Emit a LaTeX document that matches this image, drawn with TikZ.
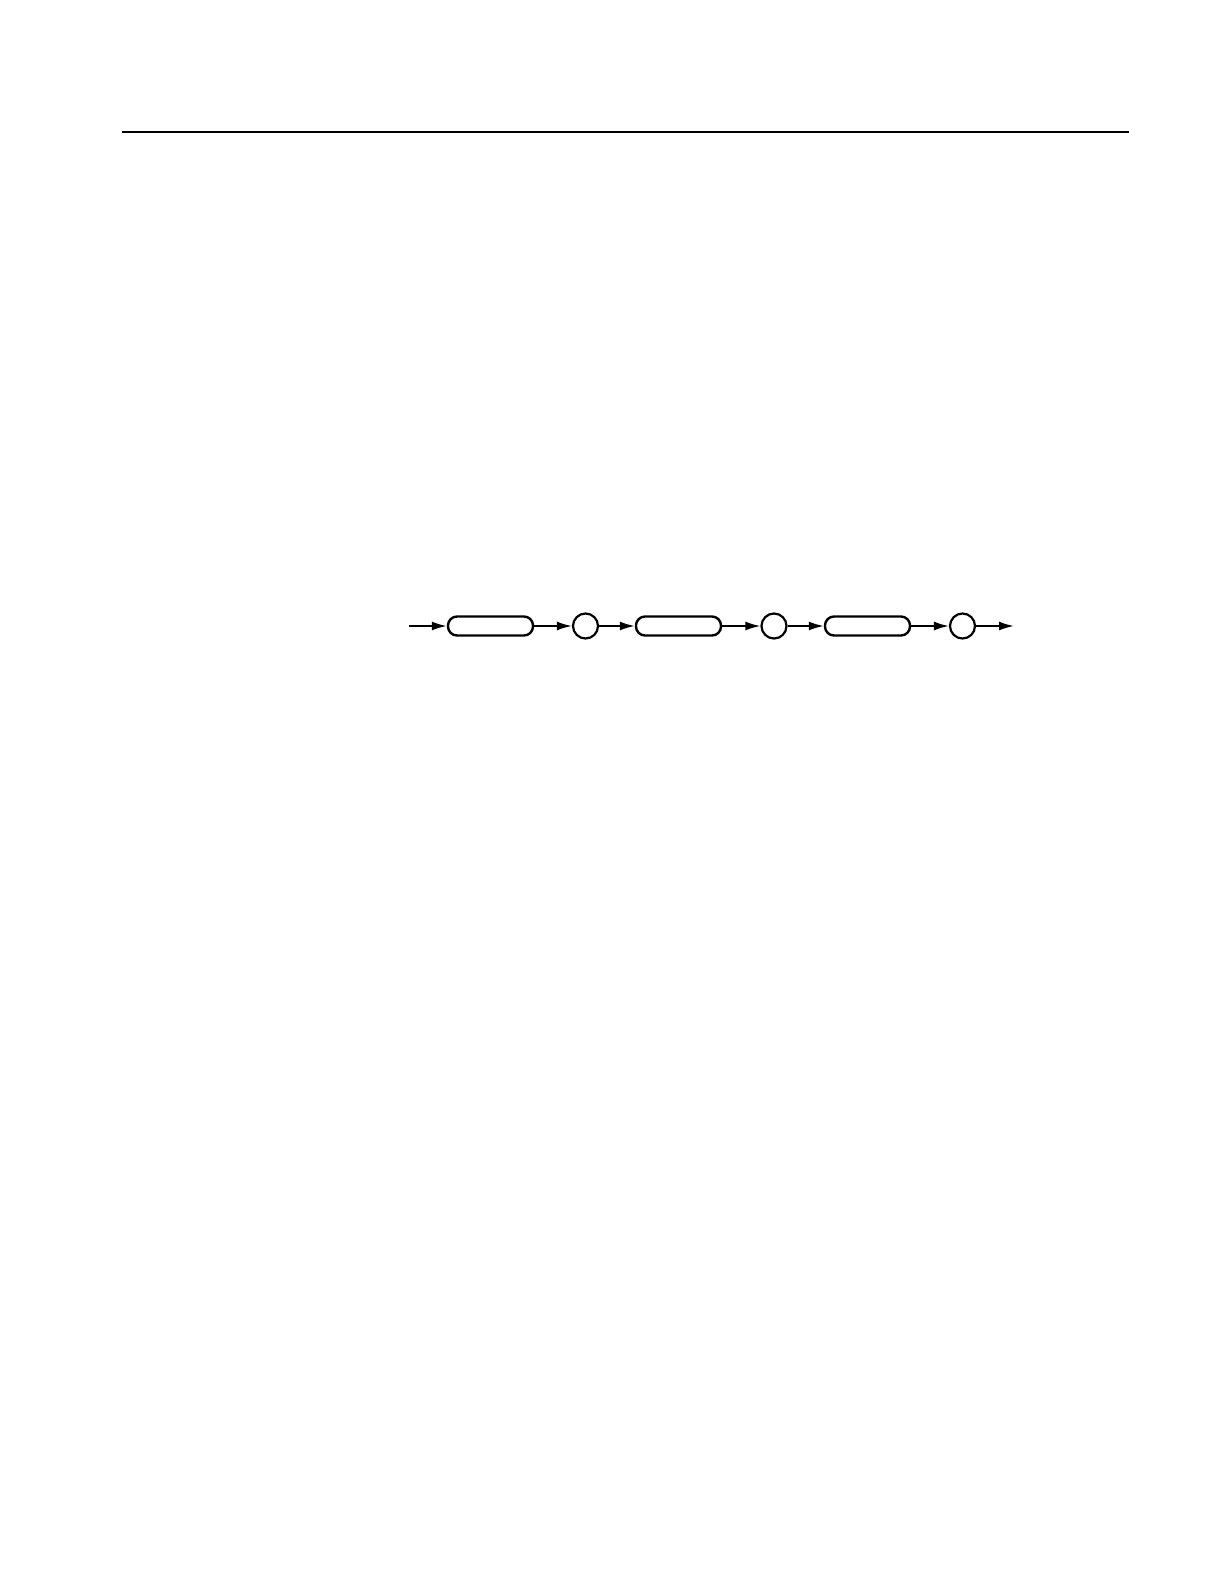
\documentclass[tikz,border=0pt]{standalone}
\usetikzlibrary{arrows.meta}
\begin{document}
\begin{tikzpicture}[x=0.5pt,y=-0.5pt,
  term/.style={draw, line width=1.2pt, rounded corners=4.5pt, minimum width=42.5pt, minimum height=9.5pt, inner sep=0pt},
  sep/.style={draw, circle, line width=1.1pt, minimum size=12.5pt, inner sep=0pt},
  flow/.style={line width=0.9pt, -{Latex[length=7.5pt,width=4.5pt]}}]
\useasboundingbox (0,0) rectangle (1224,1584);
\draw[line width=1pt] (122,132) -- (1129,132);
\coordinate (in) at (409,626);
\node[term] (b1) at (490.5,626) {};
\node[sep] (c1) at (585.5,626) {};
\node[term] (b2) at (678.5,626) {};
\node[sep] (c2) at (774,626) {};
\node[term] (b3) at (867.5,626) {};
\node[sep] (c3) at (962.5,626) {};
\coordinate (out) at (1014,626);
\draw[flow] (in) -- (b1.west);
\draw[flow] (b1.east) -- (c1.west);
\draw[flow] (c1.east) -- (b2.west);
\draw[flow] (b2.east) -- (c2.west);
\draw[flow] (c2.east) -- (b3.west);
\draw[flow] (b3.east) -- (c3.west);
\draw[flow] (c3.east) -- (out);
\end{tikzpicture}
\end{document}
